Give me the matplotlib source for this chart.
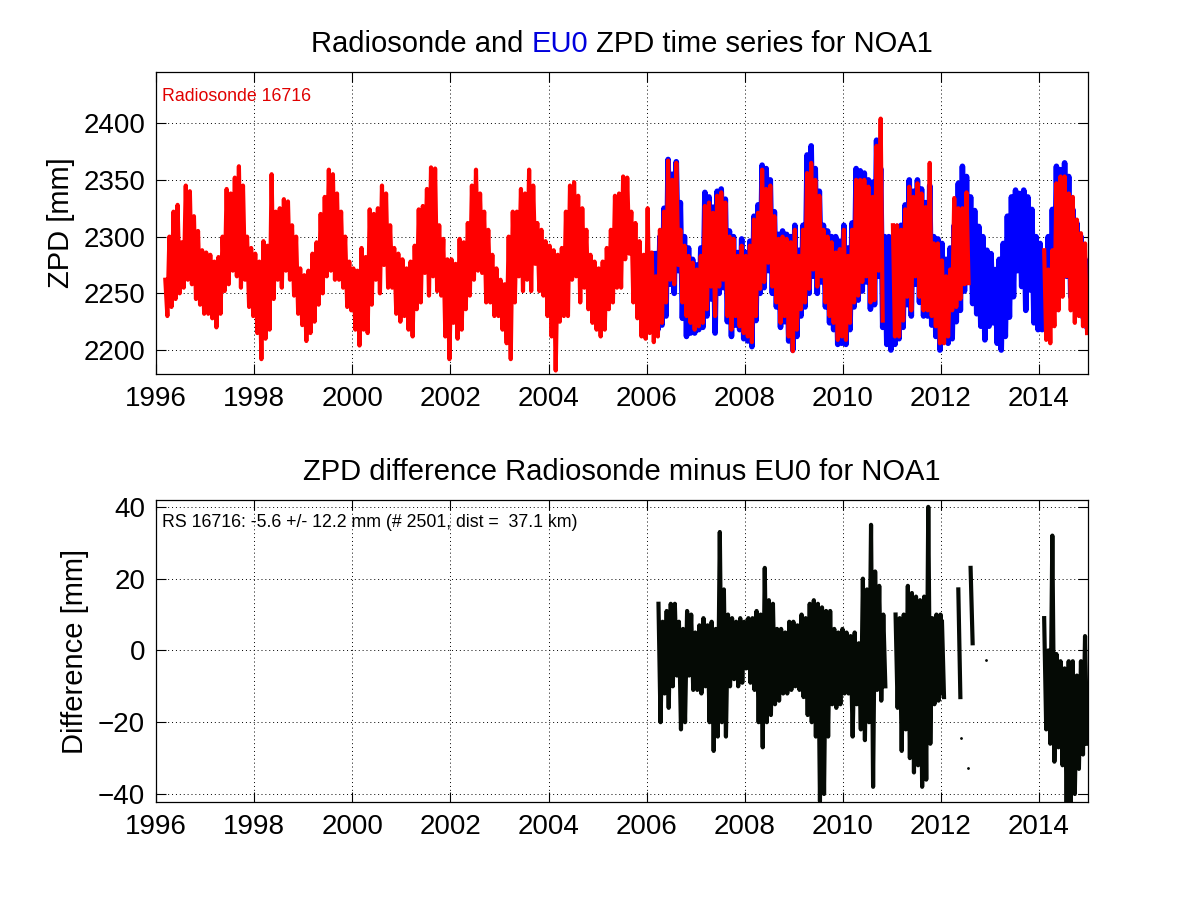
import numpy as np
import matplotlib
matplotlib.use('Agg')
import matplotlib.pyplot as plt

nan = np.nan

# monthly upper / lower envelope of the series
# Radiosonde 16716, starting March 1996
rs_start = 1996 + 2 / 12.0
rs_hi = [
    2262, 2300, 2322, 2328, 2295, 2345, 2340, 2318, 2305, 2288,               # 1996
    2286, 2284, 2278, 2282, 2300, 2342, 2338, 2352, 2362, 2345, 2300, 2290,   # 1997
    2285, 2278, 2296, 2292, 2355, 2322, 2325, 2333, 2331, 2310, 2300, 2272,   # 1998
    2266, 2270, 2285, 2295, 2320, 2335, 2359, 2355, 2338, 2322, 2300, 2278,   # 1999
    2272, 2270, 2290, 2282, 2324, 2320, 2325, 2345, 2338, 2310, 2290, 2285,   # 2000
    2280, 2272, 2278, 2292, 2324, 2327, 2342, 2361, 2360, 2310, 2298, 2280,   # 2001
    2280, 2276, 2298, 2295, 2312, 2345, 2359, 2338, 2322, 2306, 2284, 2272,   # 2002
    2262, 2258, 2300, 2322, 2322, 2342, 2338, 2359, 2345, 2312, 2306, 2296,   # 2003
    2292, 2288, 2284, 2290, 2322, 2345, 2348, 2336, 2325, 2306, 2284, 2278,   # 2004
    2272, 2278, 2290, 2306, 2336, 2338, 2353, 2352, 2322, 2312, 2296, 2284,   # 2005
    2325, 2286, 2265, 2306, 2322, 2367, 2350, 2365, 2306, 2292, 2283, 2277,   # 2006
    2271, 2283, 2327, 2330, 2321, 2336, 2339, 2330, 2300, 2298, 2283, 2292,   # 2007
    2283, 2292, 2315, 2321, 2359, 2342, 2345, 2318, 2298, 2300, 2298, 2295,   # 2008
    2306, 2283, 2306, 2356, 2365, 2350, 2336, 2306, 2300, 2295, 2286, 2289,   # 2009
    2306, 2283, 2306, 2350, 2350, 2350, 2344, 2335, 2380, 2404, nan, nan,     # 2010
    2310, 2310, 2306, 2324, 2344, 2335, 2347, 2338, 2326, 2365, 2294, 2294,   # 2011
    2279, 2265, 2271, 2334, 2325, 2325, 2339, nan, nan, nan, nan, nan,        # 2012
    nan, nan, nan, nan, nan, nan, nan, nan, nan, nan, nan, nan,               # 2013
    nan, 2288, 2271, 2288, 2347, 2353, 2353, 2338, 2335, 2315, 2303, 2294,    # 2014
]
rs_lo = [
    2230, 2238, 2245, 2250, 2255, 2262, 2258, 2245, 2240, 2232,               # 1996
    2232, 2228, 2220, 2232, 2252, 2258, 2270, 2265, 2255, 2262, 2238, 2230,   # 1997
    2215, 2192, 2210, 2218, 2245, 2262, 2255, 2270, 2262, 2248, 2232, 2222,   # 1998
    2208, 2215, 2225, 2240, 2250, 2265, 2270, 2262, 2262, 2255, 2238, 2235,   # 1999
    2218, 2204, 2218, 2215, 2240, 2262, 2250, 2275, 2255, 2255, 2232, 2225,   # 2000
    2230, 2218, 2212, 2236, 2242, 2268, 2248, 2265, 2252, 2248, 2212, 2192,   # 2001
    2224, 2210, 2218, 2236, 2248, 2262, 2270, 2268, 2242, 2242, 2230, 2230,   # 2002
    2218, 2206, 2192, 2242, 2265, 2252, 2262, 2252, 2276, 2252, 2248, 2230,   # 2003
    2212, 2182, 2225, 2230, 2230, 2262, 2265, 2242, 2255, 2236, 2224, 2218,   # 2004
    2212, 2218, 2236, 2242, 2255, 2255, 2280, 2285, 2242, 2228, 2212, 2210,   # 2005
    2215, 2207, 2212, 2224, 2242, 2262, 2258, 2275, 2242, 2230, 2224, 2218,   # 2006
    2221, 2224, 2236, 2256, 2230, 2256, 2262, 2230, 2218, 2230, 2221, 2215,   # 2007
    2212, 2207, 2230, 2254, 2260, 2277, 2256, 2242, 2224, 2230, 2212, 2199,   # 2008
    2218, 2236, 2242, 2254, 2271, 2256, 2265, 2242, 2230, 2224, 2209, 2212,   # 2009
    2209, 2224, 2242, 2248, 2260, 2265, 2242, 2244, 2270, 2226, nan, nan,     # 2010
    2212, 2212, 2226, 2247, 2235, 2265, 2247, 2235, 2235, 2230, 2221, 2206,   # 2011
    2206, 2212, 2235, 2238, 2245, 2258, 2259, nan, nan, nan, nan, nan,        # 2012
    nan, nan, nan, nan, nan, nan, nan, nan, nan, nan, nan, nan,               # 2013
    nan, 2209, 2206, 2221, 2235, 2247, 2265, 2235, 2224, 2230, 2221, 2215,    # 2014
]

# EU0 solution, starting March 2006
eu_start = 2006 + 2 / 12.0
eu_hi = [
    2285, 2300, 2325, 2368, 2355, 2366, 2330, 2300, 2290, 2280,               # 2006
    2275, 2290, 2339, 2335, 2326, 2340, 2342, 2333, 2305, 2300, 2286, 2298,   # 2007
    2286, 2296, 2318, 2328, 2363, 2360, 2350, 2322, 2302, 2305, 2302, 2300,   # 2008
    2310, 2288, 2310, 2372, 2380, 2360, 2340, 2310, 2305, 2300, 2300, 2296,   # 2009
    2310, 2290, 2312, 2360, 2358, 2356, 2350, 2348, 2385, 2360, 2300, 2300,   # 2010
    2300, 2309, 2310, 2328, 2350, 2340, 2350, 2342, 2330, 2345, 2300, 2298,   # 2011
    2294, 2280, 2290, 2310, 2347, 2362, 2353, 2335, 2323, 2309, 2300, 2288,   # 2012
    2285, 2271, 2280, 2294, 2318, 2335, 2341, 2338, 2341, 2335, 2324, 2300,   # 2013
    2294, 2282, 2300, 2324, 2362, 2359, 2365, 2353, 2324, 2312, 2300, 2280,   # 2014
]
eu_lo = [
    2218, 2222, 2230, 2258, 2250, 2270, 2228, 2212, 2215, 2215,               # 2006
    2218, 2220, 2230, 2245, 2215, 2250, 2255, 2225, 2212, 2222, 2218, 2210,   # 2007
    2208, 2203, 2226, 2250, 2255, 2270, 2250, 2238, 2220, 2225, 2208, 2200,   # 2008
    2212, 2230, 2238, 2250, 2265, 2250, 2260, 2238, 2224, 2218, 2205, 2206,   # 2009
    2205, 2218, 2238, 2244, 2252, 2260, 2236, 2240, 2265, 2220, 2205, 2200,   # 2010
    2205, 2210, 2220, 2240, 2230, 2258, 2242, 2230, 2230, 2222, 2212, 2200,   # 2011
    2215, 2206, 2210, 2225, 2235, 2252, 2260, 2241, 2232, 2221, 2209, 2221,   # 2012
    2224, 2206, 2200, 2212, 2229, 2247, 2270, 2256, 2235, 2253, 2224, 2218,   # 2013
    2218, 2229, 2221, 2235, 2247, 2270, 2265, 2247, 2247, 2235, 2229, 2221,   # 2014
]

# difference radiosonde minus EU0, first block March 2006 - Aug 2012
# (windows were read about 0.65 month after each month start)
diff_start_a = 2006 + 2 / 12.0 + 0.054
diff_hi_a = [
    13, 8, 11, 13, 13, 8, 6, 11, 10, 5,                                       # 2006
    7, 9, 7, 8, 6, 33, 17, 10, 9, 8, 9, 8,                                    # 2007
    9, 9, 11, 10, 23, 14, 13, 6, 6, 5, 8, 8,                                  # 2008
    7, 10, 9, 13, 14, 13, 12, 11, 11, 6, 5, 6,                                # 2009
    5, 4, 5, 2, 20, 17, 35, 22, 18, 10, nan, nan,                             # 2010
    10, 9, 10, 18, 16, 15, 14, 15, 40, 9, 10, 10,                             # 2011
]
diff_lo_a = [
    -20, -12, -16, -10, -7, -22, -20, -7, -11, -11,                           # 2006
    -12, -10, -20, -28, -24, -20, -24, -10, -8, -10, -9, -5,                  # 2007
    -9, -11, -20, -27, -20, -18, -15, -14, -12, -12, -11, -10,                # 2008
    -11, -13, -18, -20, -24, -42, -40, -24, -15, -16, -15, -12,               # 2009
    -12, -24, -15, -22, -25, -20, -38, -11, -14, -10, nan, nan,               # 2010
    -16, -28, -22, -30, -34, -32, -38, -36, -26, -15, -14, -12,               # 2011
]
# 2012 and 2014, starting January 2012
diff_start_b = 2012.0
diff_hi_b = [
    8, nan, nan, nan, 17, nan, nan, 23, nan, nan, nan, nan,                   # 2012
    nan, nan, nan, nan, nan, nan, nan, nan, nan, nan, nan, nan,               # 2013
    nan, 9, 0, 32, -1, -3, -5, -3, -3, -7, -3, 4,                             # 2014
]
diff_lo_b = [
    -13, nan, nan, nan, -13, nan, nan, 2, nan, nan, nan, nan,                 # 2012
    nan, nan, nan, nan, nan, nan, nan, nan, nan, nan, nan, nan,               # 2013
    nan, -22, -26, -31, -27, -32, -43, -43, -40, -33, -29, -26,               # 2014
]
# a few isolated differences in late 2012
dot_t = [2012.41, 2012.55, 2012.92]
dot_v = [-24.4, -32.7, -2.8]

year_ticks = list(range(1996, 2015, 2))
zpd_ticks = [2200, 2250, 2300, 2350, 2400]
diff_ticks = [-40, -20, 0, 20, 40]


def zigzag(start, hi, lo):
    # one high and one low sample per month -> dense band like the daily data
    hi = np.asarray(hi, dtype=float)
    lo = np.asarray(lo, dtype=float)
    months = start + np.arange(len(hi)) / 12.0
    t = np.column_stack([months + 1 / 48.0, months + 3 / 48.0]).ravel()
    v = np.column_stack([hi, lo]).ravel()
    return t, v


plt.rcParams['font.family'] = ['Liberation Sans', 'DejaVu Sans']

fig = plt.figure(figsize=(12.01, 9.01), dpi=100)
ax1 = fig.add_axes([0.13, 0.585, 0.776, 0.335])
ax2 = fig.add_axes([0.13, 0.11, 0.776, 0.335])

t, v = zigzag(eu_start, eu_hi, eu_lo)
ax1.plot(t, v, color='#0000ff', linewidth=4.0)
t, v = zigzag(rs_start, rs_hi, rs_lo)
ax1.plot(t, v, color='#ff0000', linewidth=3.0)
ax1.text(0.006, 0.92, 'Radiosonde 16716', transform=ax1.transAxes,
         color='#e00000', fontsize=12.8, va='center', ha='left')

dark = '#050a05'
t, v = zigzag(diff_start_a, diff_hi_a, diff_lo_a)
ax2.plot(t, v, color=dark, linewidth=3.0)
t, v = zigzag(diff_start_b, diff_hi_b, diff_lo_b)
ax2.plot(t, v, color=dark, linewidth=3.0)
ax2.plot(dot_t, dot_v, '.', color=dark, markersize=2)
ax2.text(0.006, 0.924, 'RS 16716: -5.6 +/- 12.2 mm (# 2501, dist =  37.1 km)',
         transform=ax2.transAxes, color='k', fontsize=12.8, va='center', ha='left')

ax1.set_ylim(2179, 2445)
ax1.set_yticks(zpd_ticks)
ax1.set_ylabel('ZPD [mm]', fontsize=21, labelpad=6)
ax2.set_ylim(-42.2, 41.9)
ax2.set_yticks(diff_ticks)
ax2.set_ylabel('Difference [mm]', fontsize=21, labelpad=6)

for ax in (ax1, ax2):
    ax.set_xlim(1996, 2015)
    ax.set_xticks(year_ticks)
    ax.set_axisbelow(True)
    ax.grid(True, linestyle=(0, (1, 3)), color='k', linewidth=0.7)
    ax.tick_params(direction='in', top=True, right=True, length=7, width=0.8,
                   labelsize=20)
    ax.tick_params(axis='x', pad=8.5)
    ax.tick_params(axis='y', pad=8)
    for s in ax.spines.values():
        s.set_linewidth(0.9)

# top title with the solution name in blue
parts = [('Radiosonde and ', 'k'), ('EU0', '#0000dd'), (' ZPD time series for NOA1', 'k')]
pieces = []
first = ax1.text(0.5, 1.066, parts[0][0], transform=ax1.transAxes, color=parts[0][1],
                 fontsize=21, ha='left', va='baseline')
pieces.append(first)
for s, c in parts[1:]:
    pieces.append(ax1.annotate(s, xy=(1, 0), xycoords=pieces[-1], color=c,
                               fontsize=21, ha='left', va='bottom'))
fig.canvas.draw()
r = fig.canvas.get_renderer()
w = pieces[-1].get_window_extent(r).x1 - pieces[0].get_window_extent(r).x0
axw = ax1.get_window_extent(r).width
first.set_x(0.5 - w / 2 / axw)

ax2.text(0.5, 1.068, 'ZPD difference Radiosonde minus EU0 for NOA1', transform=ax2.transAxes,
         fontsize=21, ha='center', va='baseline')

fig.savefig('out.png', dpi=100)
